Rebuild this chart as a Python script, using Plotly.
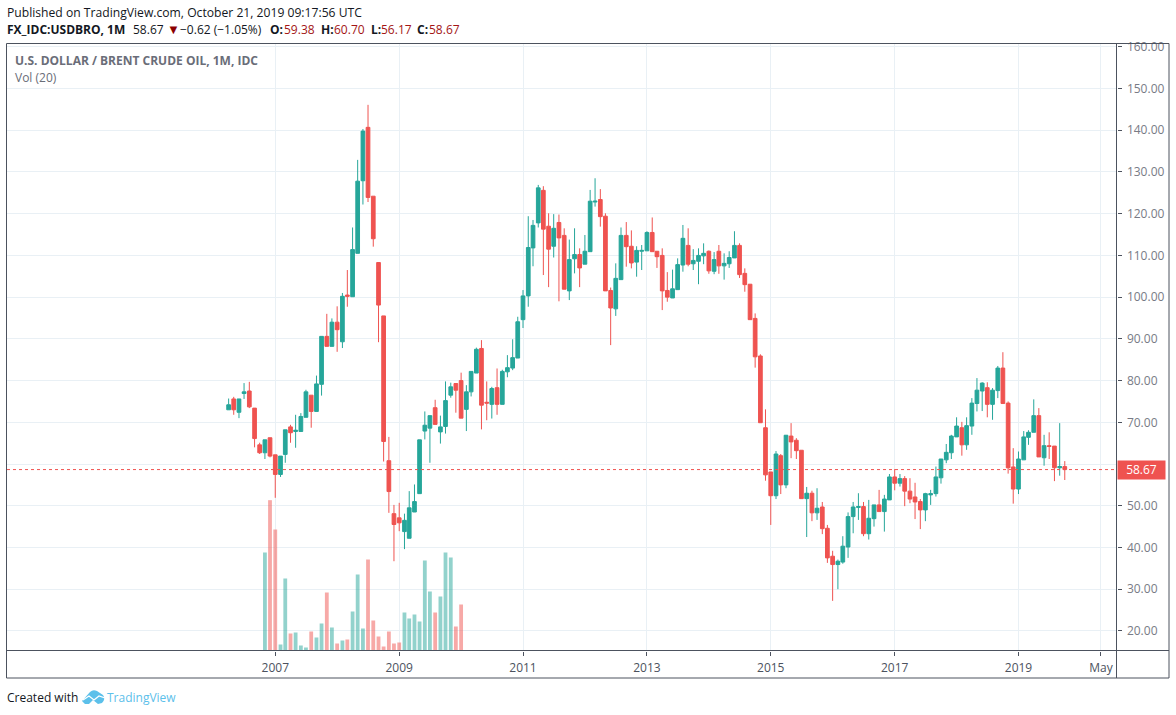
import pandas as pd
import plotly.graph_objects as go

W, H = 1176, 715

first_month = "2006-04-01"
opens = [73.0,75.6,72.4,76.9,77.5,73.4,64.6,62.7,66.3,62.2,57.5,62.3,68.9,67.8,67.8,71.2,76.5,72.6,79.1,90.6,
 88.2,94.0,89.3,100.5,100.1,110.5,127.9,140.7,124.2,108.3,95.5,60.8,48.1,47.1,43.8,42.2,48.5,52.9,67.9,68.6,
 73.5,67.7,69.0,76.5,79.3,80.0,73.1,77.3,81.8,87.7,74.8,74.3,78.3,74.3,82.1,83.0,85.4,94.6,100.3,111.8,
 117.8,125.6,117.0,112.2,117.9,114.8,101.5,109.2,110.2,107.9,110.9,122.8,123.4,119.4,101.6,97.2,104.2,114.8,112.2,108.4,
 111.0,111.1,115.5,111.0,110.0,101.6,99.8,101.8,107.7,112.4,108.0,108.6,109.9,111.0,106.2,111.0,107.5,108.0,109.4,112.4,
 105.7,103.1,94.9,85.9,68.7,58.1,52.4,62.0,55.0,66.7,65.7,63.3,51.7,53.0,48.3,49.7,44.6,37.9,35.9,36.5,
 40.1,47.4,49.6,49.8,43.3,46.9,50.2,48.6,51.4,56.9,55.4,56.5,53.5,52.1,51.0,49.0,52.6,52.9,56.7,61.0,
 62.7,66.5,68.7,64.6,69.1,74.5,77.5,78.3,74.3,77.6,83.0,74.6,59.3,54.0,61.0,66.4,67.6,71.6,61.5,64.4,
 64.3,59.1,59.38]
highs = [75.7,76.1,75.6,79.4,79.7,73.4,65.1,65.8,66.3,62.2,61.9,68.2,69.4,71.8,72.2,77.8,76.5,81.2,90.6,96.0,
 94.9,97.8,101.0,106.5,116.7,132.9,140.3,146.1,124.2,108.3,95.5,66.5,50.2,50.7,48.1,53.5,55.1,65.8,72.6,71.6,
 75.4,71.6,79.8,79.5,79.3,81.9,78.9,82.2,87.9,89.7,79.8,78.5,82.9,82.6,86.1,89.9,95.3,101.7,119.4,118.5,
 126.9,126.6,120.1,119.9,119.8,116.5,113.8,116.5,111.7,114.9,125.7,128.5,125.9,120.1,102.3,108.1,116.7,118.0,116.0,112.2,
 112.5,115.8,119.1,111.0,111.7,106.0,106.6,109.3,117.3,116.5,111.5,111.7,112.9,111.2,110.8,112.5,110.5,111.0,115.8,112.9,
 106.9,103.1,96.1,86.3,73.1,58.1,63.1,62.4,66.9,69.8,66.2,63.3,54.5,53.6,54.2,50.9,45.4,39.2,37.1,42.7,
 48.4,50.9,53.0,50.9,51.4,50.2,53.8,52.6,57.6,58.8,57.6,57.1,56.6,55.5,51.6,53.1,53.8,59.4,61.2,64.8,
 67.0,71.2,70.1,71.2,75.8,80.6,79.6,79.6,78.2,83.5,86.8,75.0,63.8,63.0,67.9,68.1,75.5,73.4,67.0,67.6,
 64.3,69.8,60.70]
lows = [73.0,71.8,71.0,75.6,73.4,64.0,62.4,61.2,61.6,51.9,56.9,60.3,65.1,63.9,67.8,71.2,68.7,72.6,76.4,88.2,
 88.2,86.9,87.8,97.7,100.1,110.5,122.2,122.8,112.1,89.2,60.6,48.3,36.7,43.9,39.6,42.2,48.5,52.9,65.9,60.3,
 69.5,64.9,67.3,75.9,72.3,71.0,67.9,76.2,81.8,68.3,70.5,70.9,71.8,74.3,80.8,82.5,85.4,92.6,97.7,107.4,
 116.7,105.3,102.4,109.5,99.0,101.9,99.3,105.7,102.4,107.9,110.9,121.7,116.9,101.5,88.5,95.5,104.2,107.3,106.9,104.9,
 106.5,111.1,110.9,107.0,96.9,98.9,99.8,101.8,106.1,107.4,106.5,103.1,107.9,105.6,105.5,105.6,104.2,107.0,109.4,104.6,
 101.3,94.6,83.1,69.9,56.0,45.4,51.6,52.8,54.2,61.4,61.2,51.7,42.5,46.3,46.6,43.2,36.3,27.2,30.0,36.1,
 37.5,43.4,46.6,42.7,41.9,45.0,48.6,43.8,51.4,53.7,54.6,49.9,50.6,46.8,44.4,46.3,50.2,52.2,55.3,60.2,
 61.2,66.5,62.0,63.4,67.0,72.6,72.7,71.2,70.6,75.8,74.5,57.7,50.5,52.8,61.0,64.6,67.6,61.7,59.6,61.2,
 55.9,57.2,56.17]
closes = [74.2,73.0,75.6,77.3,73.7,66.1,62.7,65.8,61.9,57.5,61.9,68.2,67.5,68.1,71.4,77.3,72.6,79.2,90.6,88.2,
 94.0,92.2,100.2,100.2,111.4,127.8,139.8,123.9,114.0,98.1,65.4,53.4,45.5,45.9,46.5,49.5,51.0,65.8,69.3,71.6,
 69.5,68.9,75.2,78.5,77.7,71.0,77.3,82.2,87.5,74.1,74.6,78.1,74.3,82.2,83.1,85.5,94.1,100.3,111.9,117.2,
 126.2,116.3,111.5,116.5,114.2,101.9,109.0,110.2,107.0,111.0,123.0,123.0,119.3,101.5,97.4,104.5,114.8,112.1,108.2,111.2,
 111.2,115.5,110.9,109.7,101.5,100.0,102.0,107.8,114.1,107.9,108.8,110.0,110.5,106.3,109.0,107.5,108.1,109.5,112.4,105.4,
 103.0,94.6,85.7,69.9,57.4,52.4,62.4,55.0,66.9,65.3,63.2,51.7,53.0,48.3,49.4,44.5,37.5,35.9,36.7,40.3,
 47.4,49.7,49.8,43.3,47.0,50.2,48.6,51.6,56.9,55.4,56.5,53.5,51.6,50.9,49.0,52.9,52.9,56.9,61.2,62.8,
 66.7,69.1,64.6,69.2,74.6,77.7,79.4,74.3,77.7,83.0,74.5,59.1,54.0,61.2,66.5,67.6,71.6,61.7,64.4,64.2,
 59.1,59.4,58.67]

volume_first_month = "2006-11-01"
volumes = [294,451,363,18,216,51,54,15,9,57,39,81,174,69,21,30,33,117,228,66,273,90,42,12,57,21,24,
 114,96,108,87,270,177,114,162,294,279,72,138]

price_ticks = list(range(20, 170, 10))
price_tick_labels = ["" if p == 60 else f"{p}.00" for p in price_ticks]
time_tick_dates = ["2007-01-01","2009-01-01","2011-01-01","2013-01-01","2015-01-01","2017-01-01","2019-01-01","2020-05-01"]
time_tick_labels = ["2007","2009","2011","2013","2015","2017","2019","May"]
last_price = 58.67

GREEN, RED = "#26a69a", "#ef5350"
GREEN_V, RED_V = "rgba(38,166,154,0.5)", "rgba(239,83,80,0.5)"
GRID, FRAME = "#e9f0f5", "#4c525e"
FONT = "Open Sans, Noto Sans, sans-serif"

months = pd.date_range(first_month, periods=len(closes), freq="MS")
vol_months = pd.date_range(volume_first_month, periods=len(volumes), freq="MS")
vol_start = list(months).index(vol_months[0])
vol_colors = [RED_V if closes[vol_start + i] < opens[vol_start + i] else GREEN_V for i in range(len(volumes))]


def px(x, y):
    return x / W, 1 - y / H


def text(x, y, s, size=12, color="#131722", xanchor="left", weight=None):
    xp, yp = px(x, y)
    return dict(x=xp, y=yp, xref="paper", yref="paper", text=f"<b>{s}</b>" if weight else s, showarrow=False,
                xanchor=xanchor, yanchor="middle", align="left",
                font=dict(family=FONT, size=size, color=color), borderpad=0, borderwidth=0)


def line(x0, y0, x1, y1, color=FRAME, width=1):
    a, b = px(x0, y0)
    c, d = px(x1, y1)
    return dict(type="line", xref="paper", yref="paper", x0=a, y0=b, x1=c, y1=d, line=dict(color=color, width=width))


def path(points, close=True):
    d = ""
    for i, (cmd, *xy) in enumerate(points):
        coords = " ".join(f"{px(xy[j], xy[j+1])[0]:.5f},{px(xy[j], xy[j+1])[1]:.5f}" for j in range(0, len(xy), 2))
        d += f"{cmd}{coords} "
    return d + ("Z" if close else "")


fig = go.Figure()
fig.add_trace(go.Bar(x=vol_months, y=volumes, yaxis="y2", marker=dict(color=vol_colors, line=dict(width=0)), name="Vol"))
fig.add_trace(go.Candlestick(
    x=months, open=opens, high=highs, low=lows, close=closes, name="USDBRO",
    whiskerwidth=0,
    increasing=dict(line=dict(color=GREEN, width=1), fillcolor=GREEN),
    decreasing=dict(line=dict(color=RED, width=1), fillcolor=RED),
))

shapes = [
    dict(type="line", xref="x domain", yref="y", x0=0, x1=1, y0=last_price, y1=last_price,
         line=dict(color=RED, width=1, dash="dot")),
    line(6.5, 43.5, 1169, 43.5), line(6.5, 43.5, 6.5, 678), line(6.5, 678, 1169, 678),
    line(1169, 43.5, 1169, 678), line(6.5, 650.5, 1169, 650.5), line(1116.5, 43.5, 1116.5, 678),
    dict(type="path", xref="paper", yref="paper", fillcolor="#5cc0ea", line=dict(width=0),
         path=path([("M", 82, 701), ("L", 90, 692), ("Q", 93, 689, 97, 691), ("L", 103, 695), ("Q", 106, 699, 102, 703),
                    ("L", 98, 704), ("L", 93, 700), ("L", 89, 704), ("L", 85, 704)])),
    dict(type="path", xref="paper", yref="paper", line=dict(color="white", width=1.2),
         path=path([("M", 83, 700), ("L", 89, 696), ("L", 94, 700), ("L", 99, 696), ("L", 105, 698)], close=False)),
]

annotations = [
    text(7, 12, "Published on TradingView.com, October 21, 2019 09:17:56 UTC", size=12.15),
    text(7, 29.5, "FX_IDC:USDBRO, 1M", weight=True),
    text(133, 29.5, "58.67"),
    text(167, 29, "▼", size=13, color="#8b0000"),
    text(180, 29.5, "−0.62 (−1.05%)"),
    text(270, 29.5, "O:", weight=True), text(284, 29.5, "59.38", color="#a31515"),
    text(321, 29.5, "H:", weight=True), text(334, 29.5, "60.70", color="#a31515"),
    text(371, 29.5, "L:", weight=True), text(381, 29.5, "56.17", color="#a31515"),
    text(417, 29.5, "C:", weight=True), text(429, 29.5, "58.67", color="#a31515"),
    text(15, 60.5, "U.S. DOLLAR / BRENT CRUDE OIL, 1M, IDC", color="#6a6d78", weight=True),
    text(15, 77.5, "Vol (20)", color="#6a6d78"),
    text(7, 697.5, "Created with"),
    text(107, 697.5, "TradingView", color="#5cc0ea"),
    dict(x=px(1116.5, 0)[0], y=last_price, xref="paper", yref="y", text="58.67", showarrow=False, xanchor="left",
         yanchor="middle", bgcolor=RED, font=dict(family=FONT, size=12, color="white"),
         borderpad=0, width=47, height=17.5, align="center"),
]

fig.update_layout(
    width=W, height=H, autosize=False, margin=dict(l=0, r=0, t=0, b=0, pad=0, autoexpand=False),
    paper_bgcolor="white", plot_bgcolor="white", showlegend=False,
    boxgap=0.22, boxgroupgap=0, bargap=0.2, barmode="overlay",
    font=dict(family=FONT),
    xaxis=dict(
        domain=[7 / W, 1116.5 / W], type="date", range=["2002-09-02", "2020-08-01"], rangeslider=dict(visible=False),
        tickmode="array", tickvals=time_tick_dates, ticktext=time_tick_labels,
        ticks="outside", ticklen=4, tickcolor=FRAME, tickwidth=1, ticklabelstandoff=2,
        tickfont=dict(family=FONT, size=12, color=FRAME),
        showgrid=True, gridcolor=GRID, gridwidth=1, showline=False, zeroline=False,
    ),
    yaxis=dict(
        domain=[1 - 650.5 / H, 1 - 43.5 / H], range=[15.3, 160.8], side="right", anchor="x",
        tickmode="array", tickvals=price_ticks, ticktext=price_tick_labels,
        ticks="outside", ticklen=4, tickcolor=FRAME, tickwidth=1, ticklabelstandoff=3,
        tickfont=dict(family=FONT, size=12, color="#787b86"),
        showgrid=True, gridcolor=GRID, gridwidth=1, showline=False, zeroline=False,
    ),
    yaxis2=dict(overlaying="y", domain=[1 - 650.5 / H, 1 - 43.5 / H], range=[0, 1821], visible=False, showgrid=False),
    shapes=shapes, annotations=annotations,
)

fig.write_html("out.html", config={"displayModeBar": False}, post_script="document.body.style.margin='0';")
